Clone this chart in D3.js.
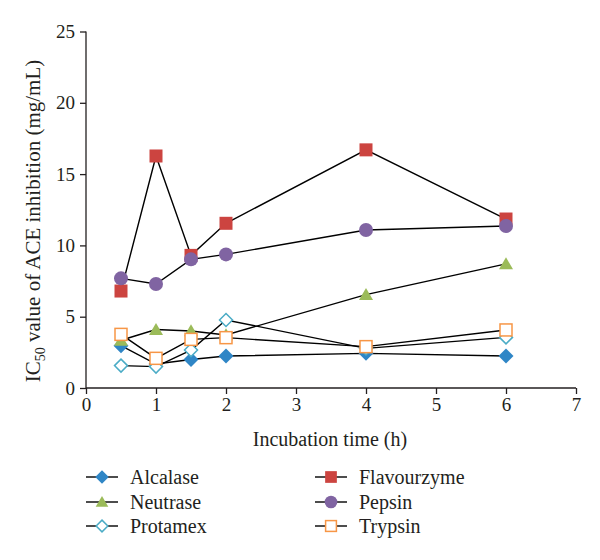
<!DOCTYPE html>
<html><head><meta charset="utf-8">
<script src="https://cdn.jsdelivr.net/npm/d3@7"></script>
<style>body{margin:0;background:#fff}svg{display:block}svg text{font-family:"Liberation Serif","DejaVu Serif",serif !important;fill:#231f20}</style>
</head><body><div id="chart"></div>
<script>
const times = [0.5, 1, 1.5, 2, 4, 6];
const seriesNames = ["Alcalase","Neutrase","Protamex","Flavourzyme","Pepsin","Trypsin"];
const alcalase    = [2.97, 1.68, 2.0, 2.24, 2.43, 2.24];
const neutrase    = [3.35, 4.1, 4.0, 3.72, 6.55, 8.7];
const protamex    = [1.57, 1.5, 2.66, 4.77, 2.78, 3.55];
const flavourzyme = [6.8, 16.27, 9.3, 11.55, 16.7, 11.85];
const pepsin      = [7.69, 7.29, 9.02, 9.37, 11.08, 11.36];
const trypsin     = [3.76, 2.08, 3.41, 3.53, 2.9, 4.07];
const xTicks = [0,1,2,3,4,5,6,7];
const yTicks = [0,5,10,15,20,25];

const seriesValues = [alcalase, neutrase, protamex, flavourzyme, pepsin, trypsin];
const colors = ["#2f86c6","#9bbb59","#4bacc6","#cc4440","#8064a2","#f79646"];
const shapes = ["diamond","triangle","diamondOpen","square","circle","squareOpen"];

const W = 600, H = 560, FS = "20px", FF = '"Liberation Serif","DejaVu Serif",serif';
const svg = d3.select("#chart").append("svg").attr("width", W).attr("height", H)
  .attr("font-family", FF);
const x = d3.scaleLinear().domain([0,7]).range([86, 576]);
const y = d3.scaleLinear().domain([0,25]).range([388, 31.5]);

// axes
const yAxis = d3.axisLeft(y).tickValues(yTicks).tickFormat(d3.format("d")).tickSize(6).tickPadding(5);
const gy = svg.append("g").attr("transform","translate(86,0)").call(yAxis);
const xAxis = d3.axisBottom(x).tickValues(xTicks).tickFormat(d3.format("d")).tickSize(6).tickPadding(4);
const gx = svg.append("g").attr("transform","translate(0,388)").call(xAxis);
[gx, gy].forEach(g => {
  g.attr("font-family", FF).attr("font-size", 19);
  g.select(".domain").attr("stroke","#231f20").attr("stroke-width",1.3);
  g.selectAll(".tick line").attr("stroke","#231f20").attr("stroke-width",1.3);
  g.selectAll(".tick text").style("font-family",FF).style("font-size","19px").attr("fill","#231f20");
});
gx.select(".domain").attr("d","M86,0H576");
gy.select(".domain").attr("d","M0,388V31.5");

// axis titles
svg.append("text").attr("x", 330).attr("y", 446).attr("text-anchor","middle")
  .style("font-size",FS).text("Incubation time (h)");
const yt = svg.append("text").attr("transform","translate(40,221) rotate(-90)").attr("text-anchor","middle").style("font-size","21px");
yt.append("tspan").text("IC");
yt.append("tspan").attr("dy",5).style("font-size","14px").text("50");
yt.append("tspan").attr("dy",-5).text(" value of ACE inhibition (mg/mL)");

function drawMarker(g, shape, color, cx, cy, s) {
  s = s || 1;
  if (shape === "diamond") {
    const r = 7.5*s;
    g.append("path").attr("d",`M${cx},${cy-r}L${cx+r},${cy}L${cx},${cy+r}L${cx-r},${cy}Z`).attr("fill",color);
  } else if (shape === "diamondOpen") {
    const r = 6.5*s;
    g.append("path").attr("d",`M${cx},${cy-r}L${cx+r},${cy}L${cx},${cy+r}L${cx-r},${cy}Z`).attr("fill","#fff").attr("stroke",color).attr("stroke-width",1.5);
  } else if (shape === "triangle") {
    const h = 12*s, w = 14*s;
    g.append("path").attr("d",`M${cx},${cy-h*0.55}L${cx+w/2},${cy+h*0.45}L${cx-w/2},${cy+h*0.45}Z`).attr("fill",color);
  } else if (shape === "square") {
    const a = 13*s;
    g.append("rect").attr("x",cx-a/2).attr("y",cy-a/2).attr("width",a).attr("height",a).attr("fill",color);
  } else if (shape === "squareOpen") {
    const a = 12*s;
    g.append("rect").attr("x",cx-a/2).attr("y",cy-a/2).attr("width",a).attr("height",a).attr("fill","#fff").attr("stroke",color).attr("stroke-width",1.5);
  } else if (shape === "circle") {
    g.append("circle").attr("cx",cx).attr("cy",cy).attr("r",7*s).attr("fill",color);
  }
}

const line = d3.line().x(d => x(d[0])).y(d => y(d[1]));
seriesValues.forEach((vals, i) => {
  const g = svg.append("g");
  const pts = times.map((t, j) => [t, vals[j]]);
  g.append("path").attr("d", line(pts)).attr("fill","none").attr("stroke","#000").attr("stroke-width",1.4);
  pts.forEach(p => drawMarker(g, shapes[i], colors[i], x(p[0]), y(p[1])));
});

// legend
const legX = [86, 315], legY = [477, 502, 526];
seriesNames.forEach((name, i) => {
  const col = Math.floor(i/3), row = i%3;
  const lx = legX[col], ly = legY[row];
  const g = svg.append("g");
  g.append("line").attr("x1",lx).attr("x2",lx+32).attr("y1",ly).attr("y2",ly).attr("stroke","#000").attr("stroke-width",1.4);
  drawMarker(g, shapes[i], colors[i], lx+16, ly, 0.9);
  g.append("text").attr("x", lx+44).attr("y", ly).attr("dy","0.35em").style("font-size",FS).text(name);
});
</script></body></html>
